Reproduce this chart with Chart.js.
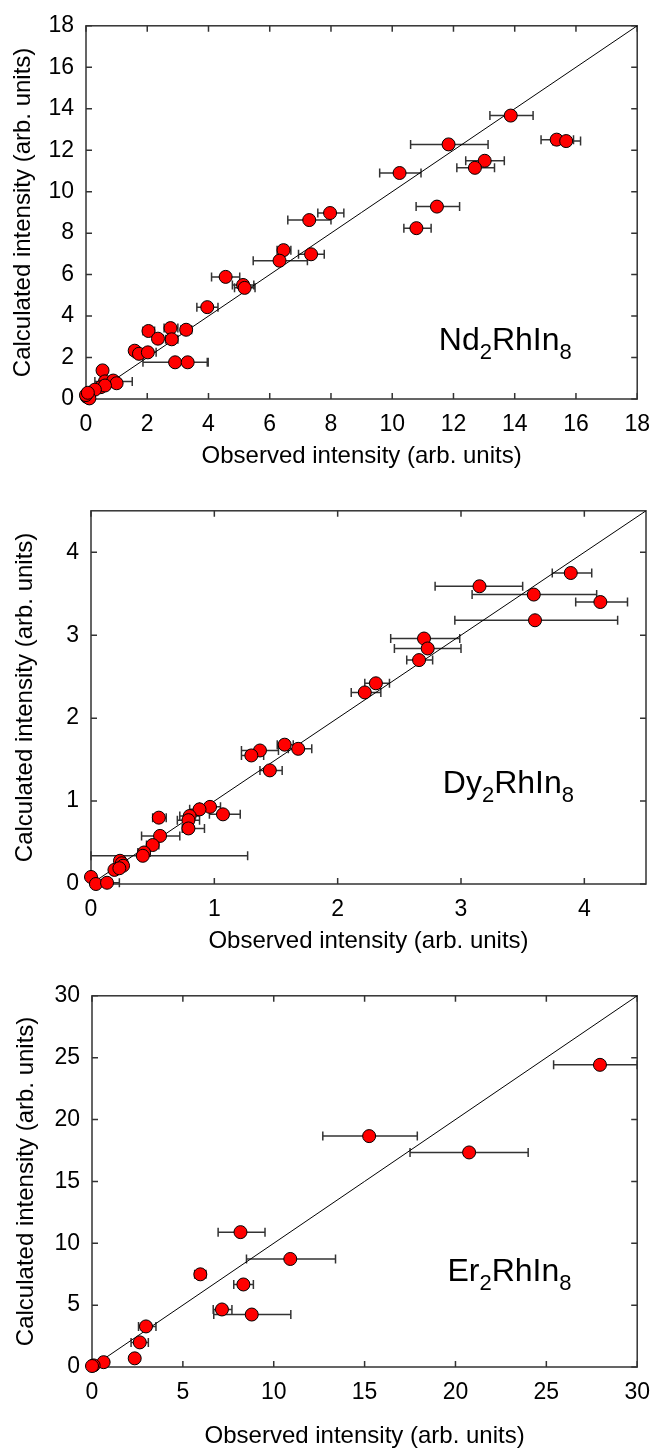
<!DOCTYPE html>
<html>
<head>
<meta charset="utf-8">
<script src="https://cdn.jsdelivr.net/npm/chart.js@4.4.1/dist/chart.umd.min.js"></script>
<style>
  body { margin: 0; background: #fff; overflow: hidden; }
  .panel { position: absolute; left: 0; width: 662px; }
</style>
</head>
<body>
<div class="panel" style="top:0px;height:485px"><canvas id="nd"></canvas></div>
<div class="panel" style="top:485px;height:485px"><canvas id="dy"></canvas></div>
<div class="panel" style="top:970px;height:482px"><canvas id="er"></canvas></div>
<script>
const FONT = "'Liberation Sans', Arial, sans-serif"
const X_TITLE = 'Observed intensity (arb. units)'
const Y_TITLE = 'Calculated intensity (arb. units)'

// ND2RHIN8 : observed, calculated, error bar low / high (observed axis)
const ndObs  = [13.87, 11.84, 15.37, 15.68, 13.02, 12.70, 10.24, 11.46, 10.79, 7.97, 7.29, 6.45, 7.35, 6.32, 4.56, 5.13, 5.18, 3.96, 2.04, 2.76, 3.27, 2.35, 2.80, 1.59, 1.73, 2.02, 2.91, 3.32, 0.54, 0.62, 0.89, 1.00, 0.48, 0.62, 0.29, 0.02, 0.11, 0.00, 0.06]
const ndCalc = [13.67, 12.28, 12.51, 12.44, 11.49, 11.15, 10.90, 9.28, 8.24, 8.97, 8.63, 7.18, 6.98, 6.67, 5.89, 5.50, 5.36, 4.43, 3.28, 3.42, 3.34, 2.91, 2.88, 2.33, 2.18, 2.25, 1.77, 1.77, 1.38, 0.85, 0.89, 0.76, 0.57, 0.65, 0.45, 0.11, 0.03, 0.19, 0.30]
const ndLo   = [13.19, 10.60, 14.86, 15.24, 12.40, 12.11, 9.59, 10.78, 10.38, 7.57, 6.59, 6.24, 6.94, 5.46, 4.10, 4.78, 4.85, 3.62, 1.86, 2.55, 3.10, 2.20, 2.60, 1.43, 1.55, 1.85, 1.86, 2.90, 0.50, 0.29, 0.75, 0.85, 0.35, 0.50, 0.20, null, null, null, null]
const ndHi   = [14.60, 13.13, 15.92, 16.15, 13.66, 13.34, 10.94, 12.20, 11.27, 8.42, 8.00, 6.69, 7.78, 7.23, 5.02, 5.48, 5.52, 4.31, 2.24, 3.00, 3.45, 2.50, 3.00, 1.75, 1.90, 2.29, 3.96, 3.99, 0.58, 1.51, 1.05, 1.15, 0.60, 0.75, 0.40, null, null, null, null]
const ndTicks = [0, 2, 4, 6, 8, 10, 12, 14, 16, 18]
const ndDiag  = [0, 18]
const ndLabel = ['Nd', '2', 'RhIn', '8']

// DY2RHIN8
const dyObs  = [3.89, 3.15, 3.59, 4.13, 3.60, 2.70, 2.73, 2.66, 2.31, 2.22, 1.57, 1.37, 1.30, 1.68, 1.45, 0.965, 0.88, 1.07, 0.55, 0.80, 0.79, 0.79, 0.56, 0.50, 0.43, 0.42, 0.235, 0.25, 0.26, 0.19, 0.23, 0.00, 0.04, 0.13]
const dyCalc = [3.75, 3.59, 3.49, 3.40, 3.18, 2.96, 2.84, 2.70, 2.42, 2.31, 1.68, 1.61, 1.55, 1.63, 1.37, 0.93, 0.90, 0.84, 0.80, 0.82, 0.77, 0.67, 0.58, 0.47, 0.38, 0.34, 0.28, 0.25, 0.22, 0.17, 0.19, 0.085, 0.00, 0.015]
const dyLo   = [3.74, 2.79, 3.09, 3.93, 2.95, 2.43, 2.46, 2.56, 2.22, 2.11, 1.51, 1.22, 1.22, 1.60, 1.37, 0.88, 0.80, 0.96, 0.50, 0.72, 0.70, 0.74, 0.41, 0.45, 0.38, 0.00, null, null, null, null, null, null, null, 0.05]
const dyHi   = [4.06, 3.50, 4.10, 4.35, 4.27, 2.99, 3.00, 2.77, 2.42, 2.35, 1.64, 1.52, 1.40, 1.79, 1.55, 1.05, 0.96, 1.21, 0.61, 0.88, 0.88, 0.92, 0.72, 0.55, 0.48, 1.27, null, null, null, null, null, null, null, 0.23]
const dyTicks = [0, 1, 2, 3, 4]
const dyDiag  = [0, 4.5]
const dyLabel = ['Dy', '2', 'RhIn', '8']

// ER2RHIN8
const erObs  = [27.95, 15.25, 20.75, 8.17, 10.91, 5.96, 8.33, 7.15, 8.79, 2.97, 2.63, 2.35, 0.64, 0.09, 0.00]
const erCalc = [24.42, 18.66, 17.34, 10.90, 8.73, 7.49, 6.67, 4.65, 4.24, 3.28, 1.99, 0.70, 0.39, 0.13, 0.08]
const erLo   = [25.4, 12.7, 17.5, 6.94, 8.5, 5.65, 7.8, 6.67, 6.7, 2.56, 2.15, null, null, null, null]
const erHi   = [30.0, 17.9, 24.0, 9.52, 13.4, 6.27, 8.88, 7.7, 10.94, 3.52, 3.10, null, null, null, null]
const erTicks = [0, 5, 10, 15, 20, 25, 30]
const erDiag  = [0, 30]
const erLabel = ['Er', '2', 'RhIn', '8']


// DRAW ONE PANEL: scatter + y=x line, box with inner ticks, x error bars
function makePanel(id, p) {
  const pts = p.obs.map((v, i) => ({x: v, y: p.calc[i]}))
  const diag = p.diag.map(v => ({x: v, y: v}))

  const deco = {
    id: 'deco',
    beforeDatasetsDraw(chart) {
      const {ctx, chartArea: a} = chart
      const sx = chart.scales.x, sy = chart.scales.y
      ctx.save()
      ctx.strokeStyle = '#333'
      ctx.lineWidth = 1.5
      ctx.strokeRect(a.left, a.top, a.right - a.left, a.bottom - a.top)
      ctx.beginPath()
      p.ticks.forEach(v => {
        const px = sx.getPixelForValue(v), py = sy.getPixelForValue(v)
        ctx.moveTo(px, a.bottom); ctx.lineTo(px, a.bottom - 6)
        ctx.moveTo(px, a.top); ctx.lineTo(px, a.top + 6)
        ctx.moveTo(a.left, py); ctx.lineTo(a.left + 6, py)
        ctx.moveTo(a.right, py); ctx.lineTo(a.right - 6, py)
      })
      ctx.stroke()

      // error bars
      ctx.beginPath()
      p.lo.forEach((lo, i) => {
        if (lo === null) return
        const x1 = sx.getPixelForValue(lo)
        const x2 = sx.getPixelForValue(p.hi[i])
        const py = sy.getPixelForValue(p.calc[i])
        ctx.moveTo(x1, py); ctx.lineTo(x2, py)
        ctx.moveTo(x1, py - 4.5); ctx.lineTo(x1, py + 4.5)
        ctx.moveTo(x2, py - 4.5); ctx.lineTo(x2, py + 4.5)
      })
      ctx.stroke()
      ctx.restore()
    },
    afterDraw(chart) {
      const {ctx, chartArea: a} = chart
      let tx = a.left + p.lx * (a.right - a.left)
      const ty = a.top + p.ly * (a.bottom - a.top)
      ctx.save()
      ctx.fillStyle = '#000'
      ctx.textBaseline = 'alphabetic'
      p.label.forEach((part, i) => {
        const sub = i % 2 === 1
        ctx.font = (sub ? '22px ' : '32px ') + FONT
        ctx.fillText(part, tx, sub ? ty + 9 : ty)
        tx += ctx.measureText(part).width
      })
      ctx.restore()
    }
  }

  const tickFont = {family: FONT, size: 23}
  const titleFont = {family: FONT, size: 24}

  new Chart(document.getElementById(id), {
    type: 'scatter',
    data: {
      datasets: [{
        data: pts,
        pointRadius: 6.5,
        pointHoverRadius: 6.5,
        backgroundColor: '#ff0000',
        borderColor: '#000',
        borderWidth: 1,
        clip: false
      }, {
        data: diag,
        showLine: true,
        pointRadius: 0,
        borderColor: '#000',
        borderWidth: 1
      }]
    },
    options: {
      responsive: true,
      maintainAspectRatio: false,
      animation: false,
      events: [],
      layout: {autoPadding: false, padding: {left: 0, top: p.top, right: p.right, bottom: 0}},
      plugins: {legend: {display: false}, tooltip: {enabled: false}},
      scales: {
        x: {
          type: 'linear', position: 'bottom', min: 0, max: p.diag[1],
          afterBuildTicks: s => { s.ticks = p.ticks.map(v => ({value: v})) },
          afterFit: s => { s.height = p.xh },
          grid: {display: false, drawTicks: false},
          border: {display: false},
          ticks: {padding: 12, color: '#000', font: tickFont, maxRotation: 0},
          title: {display: true, text: X_TITLE, color: '#000', font: titleFont, padding: {top: 0, bottom: p.xtp}}
        },
        y: {
          type: 'linear', position: 'left', min: 0, max: p.diag[1],
          afterBuildTicks: s => { s.ticks = p.ticks.map(v => ({value: v})) },
          afterFit: s => { s.width = p.yw },
          grid: {display: false, drawTicks: false},
          border: {display: false},
          ticks: {padding: 12, color: '#000', font: tickFont},
          title: {display: true, text: Y_TITLE, color: '#000', font: titleFont, padding: {top: p.ytp, bottom: 0}}
        }
      }
    },
    plugins: [deco]
  })
}

makePanel('nd', {obs: ndObs, calc: ndCalc, lo: ndLo, hi: ndHi, ticks: ndTicks, diag: ndDiag, label: ndLabel,
  top: 13, right: 21, yw: 86, xh: 86, xtp: 14.1, ytp: 8.6, lx: 0.64, ly: 0.868})
makePanel('dy', {obs: dyObs, calc: dyCalc, lo: dyLo, hi: dyHi, ticks: dyTicks, diag: dyDiag, label: dyLabel,
  top: 13, right: 16, yw: 91, xh: 86, xtp: 14.1, ytp: 10.6, lx: 0.634, ly: 0.756})
makePanel('er', {obs: erObs, calc: erCalc, lo: erLo, hi: erHi, ticks: erTicks, diag: erDiag, label: erLabel,
  top: 11, right: 15, yw: 92, xh: 85, xtp: 1.6, ytp: 11.6, lx: 0.652, ly: 0.769})
</script>
</body>
</html>
